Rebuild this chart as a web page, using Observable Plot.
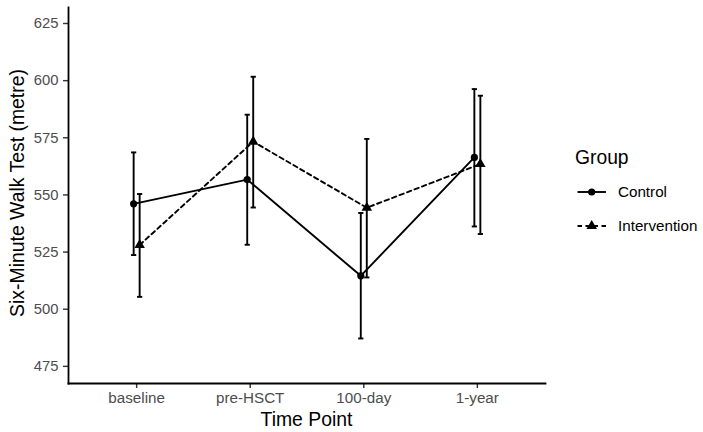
<!DOCTYPE html>
<html><head><meta charset="utf-8">
<script src="https://cdn.jsdelivr.net/npm/d3@7"></script>
<script src="https://cdn.jsdelivr.net/npm/@observablehq/plot@0.6"></script>
<style>
body{margin:0;background:#fff;font-family:"Liberation Sans",Arial,Helvetica,sans-serif}
#wrap{position:relative;width:703px;height:432px;overflow:hidden}
#wrap svg.plot{position:absolute;left:0;top:0}
.t{position:absolute;white-space:nowrap;color:#000;line-height:1}
</style></head><body><div id="wrap"></div>
<script>
const timePoints = ["baseline", "pre-HSCT", "100-day", "1-year"];
const groups = ["Control", "Intervention"];
const controlMean = [546.1, 556.7, 514.6, 566.4];
const controlLower = [523.7, 528.2, 487.2, 536.2];
const controlUpper = [568.6, 585.1, 542.1, 596.3];
const interventionMean = [528.1, 573.3, 544.4, 563.5];
const interventionLower = [505.4, 544.5, 513.9, 532.9];
const interventionUpper = [550.4, 601.7, 574.5, 593.4];
const yTicks = [475, 500, 525, 550, 575, 600, 625];
const yTitle = "Six-Minute Walk Test (metre)";
const xTitle = "Time Point";
const legendTitle = "Group";

const rows = [];
timePoints.forEach((t, i) => {
  rows.push({i, t, group: groups[0], mean: controlMean[i], lo: controlLower[i], hi: controlUpper[i]});
  rows.push({i, t, group: groups[1], mean: interventionMean[i], lo: interventionLower[i], hi: interventionUpper[i]});
});
const ctrl = rows.filter(d => d.group === groups[0]);
const intv = rows.filter(d => d.group === groups[1]);

const capSymbol = {draw(ctx) { ctx.moveTo(-2.6, 0); ctx.lineTo(2.6, 0); }};
const SW = 1.9;
const DASH = "4.5,3.5";
const CIRC_R = 3.6, TRI_R = 3.9;

function groupMarks(data, dx, dash, symbol, r) {
  return [
    Plot.line(data, {x: "i", y: "mean", dx, stroke: "#000", strokeWidth: SW, strokeDasharray: dash}),
    Plot.ruleX(data, {x: "i", y1: "lo", y2: "hi", dx, stroke: "#000", strokeWidth: SW}),
    Plot.dot(data, {x: "i", y: "lo", dx, symbol: capSymbol, stroke: "#000", strokeWidth: SW, r: 2}),
    Plot.dot(data, {x: "i", y: "hi", dx, symbol: capSymbol, stroke: "#000", strokeWidth: SW, r: 2}),
    Plot.dot(data, {x: "i", y: "mean", dx, symbol, r, fill: "#000", stroke: "none"})
  ];
}

const plot = Plot.plot({
  width: 703, height: 432,
  marginLeft: 68, marginRight: 158, marginTop: 7, marginBottom: 49,
  x: {domain: [-0.6, 3.6]},
  y: {domain: [467.5, 632]},
  style: {fontFamily: '"Liberation Sans", Arial, sans-serif', background: "#fff", overflow: "visible"},
  marks: [
    Plot.axisY(yTicks, {tickSize: 5, tickPadding: 5, stroke: "#333", strokeWidth: 1.4, fill: "#4d4d4d", fontSize: 14.8, label: null}),
    Plot.axisX([0, 1, 2, 3], {tickSize: 5, tickPadding: 4, stroke: "#333", strokeWidth: 1.4, fill: "#4d4d4d", fontSize: 15.2, label: null, tickFormat: i => timePoints[i]}),
    Plot.frame({anchor: "left", stroke: "#000", strokeWidth: 1.8}),
    Plot.frame({anchor: "bottom", stroke: "#000", strokeWidth: 1.8}),
    ...groupMarks(ctrl, -3, null, "circle", CIRC_R),
    ...groupMarks(intv, 3, DASH, "triangle", TRI_R)
  ]
});
const wrap = document.getElementById("wrap");
wrap.appendChild(plot);

function addText(txt, css) {
  const d = document.createElement("div");
  d.className = "t";
  d.textContent = txt;
  Object.assign(d.style, css);
  wrap.appendChild(d);
  return d;
}
addText(xTitle, {left: "306.5px", top: "410px", fontSize: "19.4px", transform: "translateX(-50%)"});
addText(yTitle, {left: "18px", top: "193px", fontSize: "19.4px", transform: "translate(-50%,-50%) rotate(-90deg)"});
addText(legendTitle, {left: "575px", top: "148px", fontSize: "19.3px"});

// legend keys
const keys = [
  {label: groups[0], dash: null, symbol: "circle", y: 192},
  {label: groups[1], dash: DASH, symbol: "triangle", y: 226}
];
keys.forEach(k => {
  const svg = d3.create("svg").attr("width", 34).attr("height", 20)
    .style("position", "absolute").style("left", "575px").style("top", (k.y - 10) + "px");
  svg.append("line").attr("x1", 2.5).attr("x2", 31).attr("y1", 10).attr("y2", 10)
    .attr("stroke", "#000").attr("stroke-width", SW).attr("stroke-dasharray", k.dash);
  const sym = k.symbol === "circle" ? d3.symbolCircle : d3.symbolTriangle;
  const rr = k.symbol === "circle" ? CIRC_R : TRI_R;
  svg.append("path").attr("transform", "translate(16.7,10)").attr("d", d3.symbol(sym, Math.PI * rr * rr)()).attr("fill", "#000");
  wrap.appendChild(svg.node());
  addText(k.label, {left: "618px", top: (k.y - 8.5) + "px", fontSize: "15.2px"});
});
</script></body></html>
